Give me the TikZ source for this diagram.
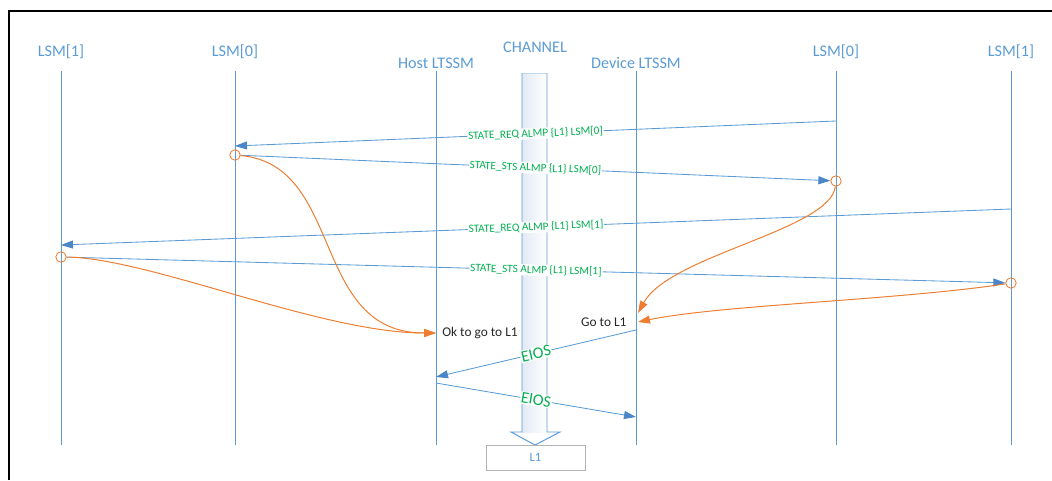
\documentclass[tikz,border=0pt]{standalone}
\usepackage{fontspec}
\setmainfont{Carlito}
\usetikzlibrary{arrows.meta,positioning,shapes.geometric}
\definecolor{seqBlue}{HTML}{5B9BD5}
\definecolor{tipBlue}{HTML}{4A86C8}
\definecolor{seqOrange}{HTML}{ED7D31}
\definecolor{seqGreen}{HTML}{00B050}
\definecolor{chanFill}{HTML}{E2E9F5}

\begin{document}
\begin{tikzpicture}[
     x=0.025cm, y=-0.025cm,
     head/.style={font=\fontsize{11.5}{13}\selectfont, text=seqBlue, inner sep=0pt},
     life/.style={draw=seqBlue, line width=0.7pt},
     msg/.style={draw=seqBlue, line width=0.6pt, -{Triangle[length=3mm, width=2mm, color=tipBlue]}},
     almp/.style={font=\fontsize{8}{9}\selectfont, text=seqGreen, fill=white, inner sep=0.6pt, sloped},
     eios/.style={font=\fontsize{11.5}{13}\selectfont, text=seqGreen, fill=white, inner sep=0.6pt, sloped},
     hop/.style={draw=seqOrange, line width=0.7pt, -{Triangle[length=3mm, width=2mm]}},
     dot/.style={circle, draw=seqOrange, line width=0.6pt, minimum size=2.6mm, inner sep=0pt},
     note/.style={font=\fontsize{9.5}{11}\selectfont, text=black!85, inner sep=0pt}]
  \useasboundingbox (0,0) rectangle (1052,480);
  \draw[line width=1.2pt] (9,480) -- (9,11) -- (1052,11);

  % heads and lifelines
  \node[head] (hl1) at (61,52) {LSM[1]};
  \node[head] (hl0) at (235,52) {LSM[0]};
  \node[head] (host) at (436,63) {Host LTSSM};
  \node[head] (chan) at (535,47) {CHANNEL};
  \node[head] (dev) at (636,63) {Device LTSSM};
  \node[head] (dl0) at (836,52) {LSM[0]};
  \node[head] (dl1) at (1011,52) {LSM[1]};
  \draw[life] (61,71) -- (61,445);
  \draw[life] (235,71) -- (235,445);
  \draw[life] (436,71) -- (436,445);
  \draw[life] (636,71) -- (636,445);
  \draw[life] (836,71) -- (836,445);
  \draw[life] (1011,71) -- (1011,445);

  % channel
  \shade[left color=chanFill, right color=white] (522,73) rectangle (547,432);
  \draw[life, draw=seqBlue!40] (522,73) -- (547,73);
  \draw[life] (522,73) -- (522,432) -- (511,432) -- (535,445) -- (560,432) -- (547,432) -- (547,73);
  \node[draw=black!30, minimum width=2.475cm, minimum height=0.625cm, text=seqBlue,
        font=\fontsize{9}{10}\selectfont] (l1box) at (535.5,457.5) {L1};

  % ALMP handshakes
  \coordinate (q0s) at (836,121);
  \coordinate (q0e) at (235,146);
  \coordinate (q1s) at (1011,209);
  \coordinate (q1e) at (61,245);
  \node[dot] (s0a) at (235,155) {};
  \node[dot] (s0b) at (836,181) {};
  \node[dot] (s1a) at (61,257) {};
  \node[dot] (s1b) at (1011,283) {};
  \draw[msg] (q0s) -- node[almp] {STATE\_REQ ALMP \{L1\} LSM[0]} (q0e);
  \draw[msg] (s0a) -- node[almp] {STATE\_STS ALMP \{L1\} LSM[0]} (s0b);
  \draw[msg] (q1s) -- node[almp] {STATE\_REQ ALMP \{L1\} LSM[1]} (q1e);
  \draw[msg] (s1a) -- node[almp] {STATE\_STS ALMP \{L1\} LSM[1]} (s1b);

  % local hand-offs
  \coordinate (okp) at (436,333);
  \coordinate (go1) at (638,313);
  \coordinate (go2) at (638,322);
  \draw[hop] (s0a) .. controls (345,165) and (310,333) .. (okp);
  \draw[hop] (s1a) .. controls (150,258) and (320,333) .. (okp);
  \draw[hop] (s0b) .. controls (830,230) and (670,255) .. (go1);
  \draw[hop] (s1b) .. controls (900,300) and (720,305) .. (go2);
  \node[note, right=1.5mm of okp, anchor=west] (okt) {Ok to go to L1};
  \node[note, left=2.8mm of go2, anchor=east] (got) {Go to L1};

  % electrical idle
  \coordinate (e1s) at (636,330);
  \coordinate (e1e) at (436,377);
  \coordinate (e2s) at (436,383);
  \coordinate (e2e) at (636,417);
  \draw[msg] (e1s) -- node[eios] {EIOS} (e1e);
  \draw[msg] (e2s) -- node[eios] {EIOS} (e2e);
\end{tikzpicture}
\end{document}
